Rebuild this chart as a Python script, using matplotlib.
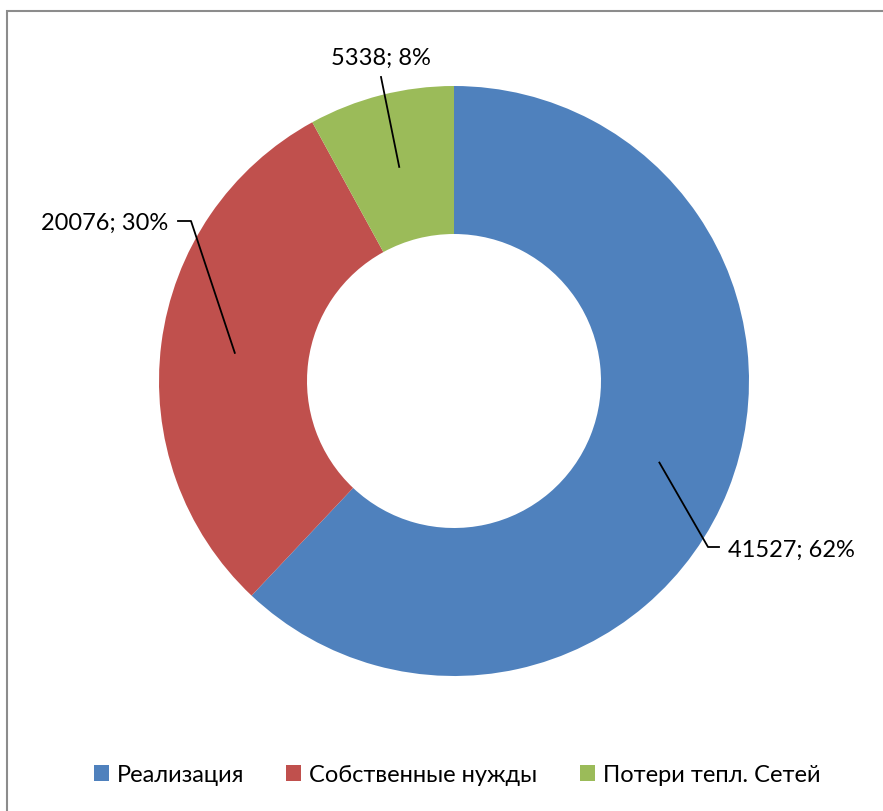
import matplotlib
matplotlib.use('Agg')
from matplotlib import pyplot as plt
import numpy as np

# --- data
categories = ['Реализация', 'Собственные нужды', 'Потери тепл. Сетей']
values = [41527, 20076, 5338]
percents = [62, 30, 8]
colors = ['#4F81BD', '#C0504D', '#9BBB59']

W, H = 883, 812
def fy(py):
    # picture pixel row -> data y (y axis goes up)
    return H - py

plt.rcParams['font.family'] = ['Lato', 'DejaVu Sans']

fig = plt.figure(figsize=(W / 100, H / 100), dpi=100)
ax = fig.add_axes([0, 0, 1, 1])
ax.set_xlim(0, W)
ax.set_ylim(0, H)
ax.axis('off')

# chart frame (only left and top edges are inside the picture)
ax.plot([7, 7, W], [0, fy(12), fy(12)], color='#8c8c8c', lw=1.5, solid_joinstyle='miter')

cx, cy = 454, fy(382)
r_out, ring = 295, 148
wedges, _ = ax.pie(values, colors=colors, startangle=90, counterclock=False,
                   center=(cx, cy), radius=r_out,
                   wedgeprops=dict(width=ring, linewidth=0))
ax.set_xlim(0, W)
ax.set_ylim(0, H)
ax.set_aspect('equal')

# -- data labels with leader lines (label text positions in picture pixels)
label_pos = [(728, 550, 'left'), (168, 223, 'right'), (381, 58, 'center')]
elbow = [(708, 548, 719), (191, 222, 178), None]
r_mid = r_out - ring / 2
for w, v, p, lp, el in zip(wedges, values, percents, label_pos, elbow):
    ang = np.deg2rad((w.theta1 + w.theta2) / 2)
    ax0, ay0 = cx + r_mid * np.cos(ang), cy + r_mid * np.sin(ang)
    tx, ty, ha = lp
    ax.text(tx, fy(ty), f'{v}; {p}%', fontsize=17, ha=ha, va='center')
    if el is not None:
        ex, ey, hx = el
        ax.plot([ax0, ex, hx], [ay0, fy(ey), fy(ey)], color='black', lw=1.3)
    else:
        ax.plot([ax0, 381], [ay0, fy(78)], color='black', lw=1.3)

# legend
leg = ax.legend(wedges, categories, loc='center', bbox_to_anchor=(457 / W, 1 - 776 / H),
                ncol=3, frameon=False, fontsize=17, handlelength=0.64, handleheight=0.64,
                handletextpad=0.34, columnspacing=1.78)

fig.savefig('out.png', dpi=100)
